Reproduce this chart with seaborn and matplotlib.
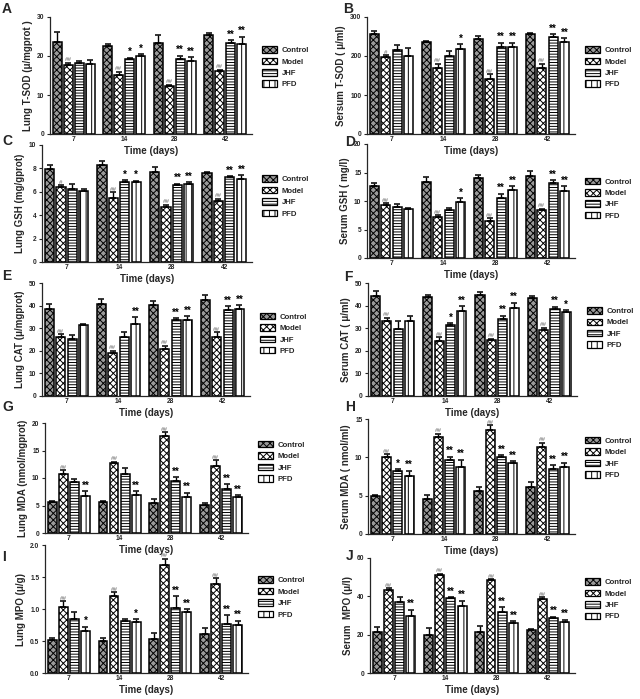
import numpy as np
import pandas as pd
import seaborn as sns
import matplotlib.pyplot as plt
import matplotlib.patches as mpatches

sns.set_style("ticks")
plt.rcParams['font.family'] = ['Liberation Sans', 'DejaVu Sans']
plt.rcParams['font.weight'] = 'bold'
plt.rcParams['axes.labelweight'] = 'bold'
plt.rcParams['hatch.linewidth'] = 0.7

days = ['7', '14', '28', '42']
groups = ['Control', 'Model', 'JHF', 'PFD']

# rows = groups (Control, Model, JHF, PFD), columns = days
a_mean = [[23.5, 22.5, 23.4, 25.3], [17.6, 15.1, 12.2, 16.2], [18.2, 19.2, 19.3, 23.3], [18.0, 20.0, 18.7, 23.1]]
a_err = [[2.7, 0.6, 2.0, 0.6], [0.6, 0.8, 0.4, 0.3], [0.6, 0.4, 0.8, 0.8], [1.0, 0.5, 1.0, 1.8]]
a_sig = [['', '', '', ''], ['##', '##', '##', '##'], ['', '*', '**', '**'], ['', '*', '**', '**']]

b_mean = [[256, 236, 244, 257], [197, 170, 141, 170], [215, 200, 222, 248], [200, 218, 222, 235]]
b_err = [[8, 3, 7, 2], [5, 10, 12, 10], [13, 12, 12, 8], [20, 12, 12, 10]]
b_sig = [['', '', '', ''], ['#', '##', '##', '##'], ['', '', '**', '**'], ['', '*', '**', '**']]

c_mean = [[7.95, 8.3, 7.7, 7.6], [6.4, 5.5, 4.7, 5.2], [6.25, 6.85, 6.6, 7.25], [6.05, 6.8, 6.7, 7.1]]
c_err = [[0.35, 0.3, 0.45, 0.1], [0.15, 0.45, 0.2, 0.2], [0.45, 0.15, 0.1, 0.1], [0.15, 0.15, 0.1, 0.3]]
c_sig = [['', '', '', ''], ['#', '##', '##', '##'], ['', '*', '**', '**'], ['', '*', '**', '**']]

d_mean = [[12.6, 13.4, 14.0, 14.4], [9.3, 7.2, 6.5, 8.4], [9.0, 8.4, 10.6, 13.2], [8.6, 9.9, 11.9, 11.7]]
d_err = [[0.5, 0.8, 0.6, 0.9], [0.3, 0.3, 0.5, 0.2], [0.5, 0.4, 0.7, 0.4], [0.15, 0.6, 0.7, 0.9]]
d_sig = [['', '', '', ''], ['##', '##', '##', '##'], ['', '', '**', '**'], ['', '*', '**', '**']]

e_mean = [[38.7, 40.8, 40.3, 42.3], [25.9, 18.9, 20.8, 26.3], [25.3, 26.3, 33.7, 38.2], [31.2, 31.7, 33.5, 38.5]]
e_err = [[1.8, 2.2, 1.8, 2.3], [1.5, 1.0, 1.3, 1.8], [1.5, 1.8, 0.8, 1.5], [0.8, 3.2, 1.7, 1.8]]
e_sig = [['', '', '', ''], ['##', '##', '##', '##'], ['', '', '**', '**'], ['', '**', '**', '**']]

f_mean = [[44.2, 43.6, 44.9, 43.5], [33.3, 24.2, 24.6, 29.4], [29.7, 31.2, 33.9, 38.5], [33.1, 37.8, 39.0, 37.1]]
f_err = [[2.2, 1.2, 1.0, 0.8], [1.3, 1.8, 0.8, 0.8], [3.4, 1.0, 1.6, 1.0], [2.3, 2.0, 2.3, 0.8]]
f_sig = [['', '', '', ''], ['##', '##', '##', '##'], ['', '*', '**', '**'], ['', '**', '**', '*']]

g_mean = [[5.6, 5.7, 5.5, 5.1], [10.7, 12.8, 17.7, 12.1], [9.2, 10.7, 9.5, 8.0], [6.8, 6.9, 6.6, 6.5]]
g_err = [[0.25, 0.1, 0.6, 0.4], [0.7, 0.2, 0.6, 1.1], [0.6, 1.2, 0.7, 0.9], [0.8, 0.7, 0.7, 0.4]]
g_sig = [['', '', '', ''], ['##', '##', '##', '##'], ['', '', '**', '**'], ['**', '**', '**', '**']]

h_mean = [[5.0, 4.6, 5.6, 6.1], [10.1, 12.7, 13.6, 11.3], [8.2, 9.7, 10.1, 8.5], [7.6, 8.8, 9.2, 8.7]]
h_err = [[0.15, 0.45, 0.5, 0.7], [0.3, 0.4, 0.6, 0.6], [0.25, 0.4, 0.2, 0.5], [0.65, 0.9, 0.3, 0.6]]
h_sig = [['', '', '', ''], ['##', '##', '##', '##'], ['*', '**', '**', '**'], ['**', '**', '**', '**']]

i_mean = [[0.51, 0.50, 0.53, 0.61], [1.03, 1.21, 1.68, 1.39], [0.85, 0.82, 1.02, 0.76], [0.66, 0.80, 0.96, 0.75]]
i_err = [[0.03, 0.04, 0.10, 0.09], [0.09, 0.05, 0.10, 0.09], [0.10, 0.03, 0.18, 0.14], [0.06, 0.04, 0.04, 0.07]]
i_sig = [['', '', '', ''], ['##', '##', '##', '##'], ['', '', '**', '**'], ['*', '*', '**', '**']]

j_mean = [[21.5, 19.8, 21.6, 22.3], [43.5, 51.2, 48.5, 38.5], [37.2, 39.0, 32.0, 28.5], [30.0, 34.7, 26.2, 26.5]]
j_err = [[2.5, 3.5, 2.8, 0.6], [0.8, 0.6, 0.5, 1.0], [2.2, 0.5, 2.2, 0.8], [3.0, 3.0, 0.8, 1.2]]
j_sig = [['', '', '', ''], ['##', '##', '##', '##'], ['', '**', '**', '**'], ['**', '**', '**', '**']]

styles = [dict(facecolor='#9a9a9a', hatch='xxxxx'),
          dict(facecolor='white', hatch='xxxxx'),
          dict(facecolor='white', hatch='------'),
          dict(facecolor='white', hatch='|||')]

W, H = 640, 699
fig = plt.figure(figsize=(W / 100, H / 100), dpi=100)


def add_ax(l, t, r, b):
    return fig.add_axes([l / W, 1 - b / H, (r - l) / W, (b - t) / H])


def panel(rect, letter, lpos, mean, err, sig, ylabel, ymax, yticks, yticklabels, leg_y):
    ax = add_ax(*rect)
    ax.set_facecolor('none')
    rows = []
    for gi, g in enumerate(groups):
        for di, d in enumerate(days):
            rows.append({'day': d, 'group': g, 'value': mean[gi][di]})
    df = pd.DataFrame(rows)
    sns.barplot(data=df, x='day', y='value', hue='group', order=days, hue_order=groups,
                width=0.87, gap=0.2, errorbar=None, legend=False, ax=ax)
    bar_sets = list(ax.containers)[:4]
    for gi, cont in enumerate(bar_sets):
        for di, bar in enumerate(cont.patches):
            bar.set_facecolor(styles[gi]['facecolor'])
            bar.set_hatch(styles[gi]['hatch'])
            bar.set_edgecolor('black')
            bar.set_linewidth(1.1)
            x = bar.get_x() + bar.get_width() / 2
            top = mean[gi][di]
            e = err[gi][di]
            ax.errorbar(x, top, yerr=[[0], [e]], fmt='none', ecolor='black',
                        elinewidth=1.0, capsize=2.2, capthick=1.1)
            s = sig[gi][di]
            if s:
                col = '#8c8c8c' if s.startswith('#') else 'black'
                fs = 4.5 if s.startswith('#') else 7
                ax.text(x, top + e + ymax * 0.005, s, ha='center', va='bottom',
                        fontsize=fs, color=col, fontweight='bold')
    ax.set_xlim(-0.47, 3.53)
    ax.set_ylim(0, ymax)
    ax.set_yticks(yticks)
    ax.set_yticklabels(yticklabels)
    ax.tick_params(axis='both', labelsize=4.8, length=2.5, width=0.8, pad=1.5)
    ax.tick_params(axis='x', length=0)
    for lab in ax.get_xticklabels() + ax.get_yticklabels():
        lab.set_fontweight('bold')
    ax.set_xlabel('Time (days)', fontsize=7, fontweight='bold', labelpad=2)
    ax.set_ylabel(ylabel, fontsize=7, fontweight='bold', labelpad=3)
    sns.despine(ax=ax)
    for sp in ax.spines.values():
        sp.set_linewidth(0.9)
    handles = [mpatches.Patch(facecolor=st['facecolor'], hatch=st['hatch'], edgecolor='black',
                              linewidth=0.9, label=g) for st, g in zip(styles, groups)]
    ax.legend(handles=handles, loc='center left', bbox_to_anchor=(1.035, leg_y), frameon=False,
              handlelength=1.9, handleheight=0.9, labelspacing=0.45,
              handletextpad=0.6, borderaxespad=0, prop={'weight': 'bold', 'size': 5.6})
    fig.text(lpos[0] / W, 1 - lpos[1] / H, letter, fontsize=10, fontweight='bold',
             ha='left', va='center')
    return ax


panel((50, 17, 252, 134), 'A', (2, 9), a_mean, a_err, a_sig, 'Lung T-SOD (\u03bc/mgprot )',
      30, [0, 10, 20, 30], ['0', '10', '20', '30'], 0.57)
panel((367, 17, 575, 134), 'B', (343, 9), b_mean, b_err, b_sig, 'Sersum T-SOD ( \u03bc/ml)',
      300, [0, 100, 200, 300], ['0', '100', '200', '300'], 0.57)
panel((42, 145, 252, 262), 'C', (2, 141), c_mean, c_err, c_sig, 'Lung GSH (mg/gprot)',
      10, [0, 2, 4, 6, 8, 10], ['0', '2', '4', '6', '8', '10'], 0.56)
panel((367, 144, 575, 258), 'D', (345, 142), d_mean, d_err, d_sig, 'Serum GSH ( mg/l)',
      20, [0, 5, 10, 15, 20], ['0', '5', '10', '15', '20'], 0.52)
panel((42, 283, 250, 396), 'E', (2, 276), e_mean, e_err, e_sig, 'Lung CAT (\u03bc/mgprot)',
      50, [0, 10, 20, 30, 40, 50], ['0', '10', '20', '30', '40', '50'], 0.55)
panel((368, 283, 577, 396), 'F', (344, 277), f_mean, f_err, f_sig, 'Serum CAT ( \u03bc/ml)',
      50, [0, 10, 20, 30, 40, 50], ['0', '10', '20', '30', '40', '50'], 0.6)
panel((45, 423, 248, 533), 'G', (2, 407), g_mean, g_err, g_sig, 'Lung MDA (nmol/mgprot)',
      20, [0, 5, 10, 15, 20], ['0', '5', '10', '15', '20'], 0.645)
panel((368, 419, 575, 534), 'H', (345, 407), h_mean, h_err, h_sig, 'Serum MDA ( nmol/ml)',
      15, [0, 5, 10, 15], ['0', '5', '10', '15'], 0.66)
panel((45, 545, 248, 673), 'I', (2, 557), i_mean, i_err, i_sig, 'Lung MPO (\u03bc/g)',
      2.0, [0.0, 0.5, 1.0, 1.5, 2.0], ['0.0', '0.5', '1.0', '1.5', '2.0'], 0.59)
panel((370, 558, 575, 673), 'J', (346, 556), j_mean, j_err, j_sig, 'Serum  MPO (\u03bc/l)',
      60, [0, 20, 40, 60], ['0', '20', '40', '60'], 0.64)

fig.savefig('out.png', dpi=100)
